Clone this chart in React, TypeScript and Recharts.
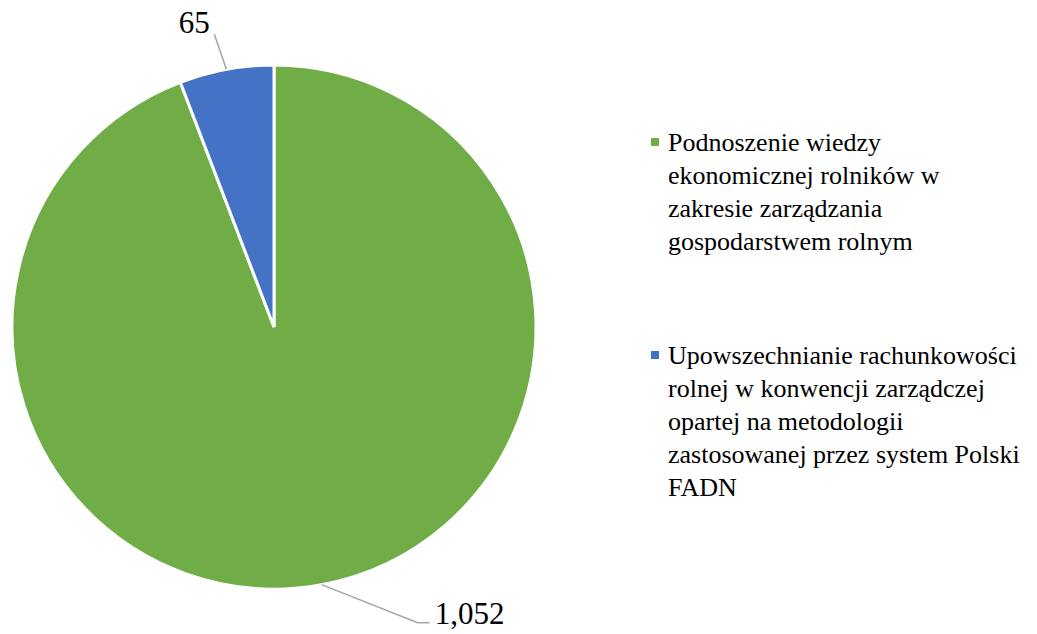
import { PieChart, Pie, Cell, Legend } from 'recharts';

const categories = [
  'Podnoszenie wiedzy ekonomicznej rolników w zakresie zarządzania gospodarstwem rolnym',
  'Upowszechnianie rachunkowości rolnej w konwencji zarządczej opartej na metodologii zastosowanej przez system Polski FADN',
];
const legendLines = [
  ['Podnoszenie wiedzy', 'ekonomicznej rolników w', 'zakresie zarządzania', 'gospodarstwem rolnym'],
  ['Upowszechnianie rachunkowości', 'rolnej w konwencji zarządczej', 'opartej na metodologii', 'zastosowanej przez system Polski', 'FADN'],
];
const values = [1052, 65];
const valueLabels = ['1,052', '65'];
const colors = ['#70AD47', '#4472C4'];

const data = categories.map((name, i) => ({ name, value: values[i] }));

const FONT = "'Liberation Serif', 'Times New Roman', serif";
const RAD = Math.PI / 180;

function renderLabel(props: any) {
  const { cx, cy, midAngle, outerRadius, index } = props;
  const x0 = cx + outerRadius * Math.cos(-midAngle * RAD);
  const y0 = cy + outerRadius * Math.sin(-midAngle * RAD);
  if (index === 0) {
    const x1 = x0 + 96;
    const y1 = y0 + 38;
    return (
      <g>
        <polyline points={`${x0},${y0} ${x1},${y1} ${x1 + 12},${y1}`} fill="none" stroke="#a6a6a6" strokeWidth={1.5} />
        <text x={x1 + 17} y={y1 + 1} fill="#000" fontSize={31} fontFamily={FONT} textAnchor="start">
          {valueLabels[index]}
        </text>
      </g>
    );
  }
  const x1 = x0 - 12;
  const y1 = y0 - 35;
  return (
    <g>
      <line x1={x0} y1={y0} x2={x1} y2={y1} stroke="#a6a6a6" strokeWidth={1.5} />
      <text x={x1 - 20} y={y1 - 1} fill="#000" fontSize={31} fontFamily={FONT} textAnchor="middle">
        {valueLabels[index]}
      </text>
    </g>
  );
}

const lineStyle: React.CSSProperties = {
  whiteSpace: 'nowrap',
  fontFamily: FONT,
  fontSize: '26px',
  lineHeight: '33px',
  color: '#000',
};

function LegendContent() {
  return (
    <div style={{ fontFamily: FONT, fontSize: '26px', lineHeight: '33px', color: '#000' }}>
      {legendLines.map((lines, i) => (
        <div key={i} style={{ position: 'relative', paddingLeft: 17, marginBottom: i === 0 ? 81 : 0 }}>
          <span
            style={{
              position: 'absolute',
              left: 0,
              top: 12,
              width: 8,
              height: 8,
              background: colors[i],
            }}
          />
          {lines.map((l, j) => (
            <div key={j} style={lineStyle}>{l}</div>
          ))}
        </div>
      ))}
    </div>
  );
}

export default function App() {
  return (
    <div style={{ position: 'absolute', left: 0, top: 0, width: 1037, height: 634, background: '#fff' }}>
      <PieChart width={1037} height={634} margin={{ top: 0, right: 0, bottom: 0, left: 0 }}>
        <Pie
          data={data}
          dataKey="value"
          nameKey="name"
          cx={274}
          cy={327}
          outerRadius={262}
          startAngle={90}
          endAngle={-270}
          stroke="#fff"
          strokeWidth={3}
          label={renderLabel}
          labelLine={false}
          isAnimationActive={false}
        >
          {data.map((d, i) => (
            <Cell key={d.name} fill={colors[i]} />
          ))}
        </Pie>
        <Legend
          content={<LegendContent />}
          layout="vertical"
          wrapperStyle={{ position: 'absolute', left: 651, top: 126, width: 386 }}
        />
      </PieChart>
    </div>
  );
}
